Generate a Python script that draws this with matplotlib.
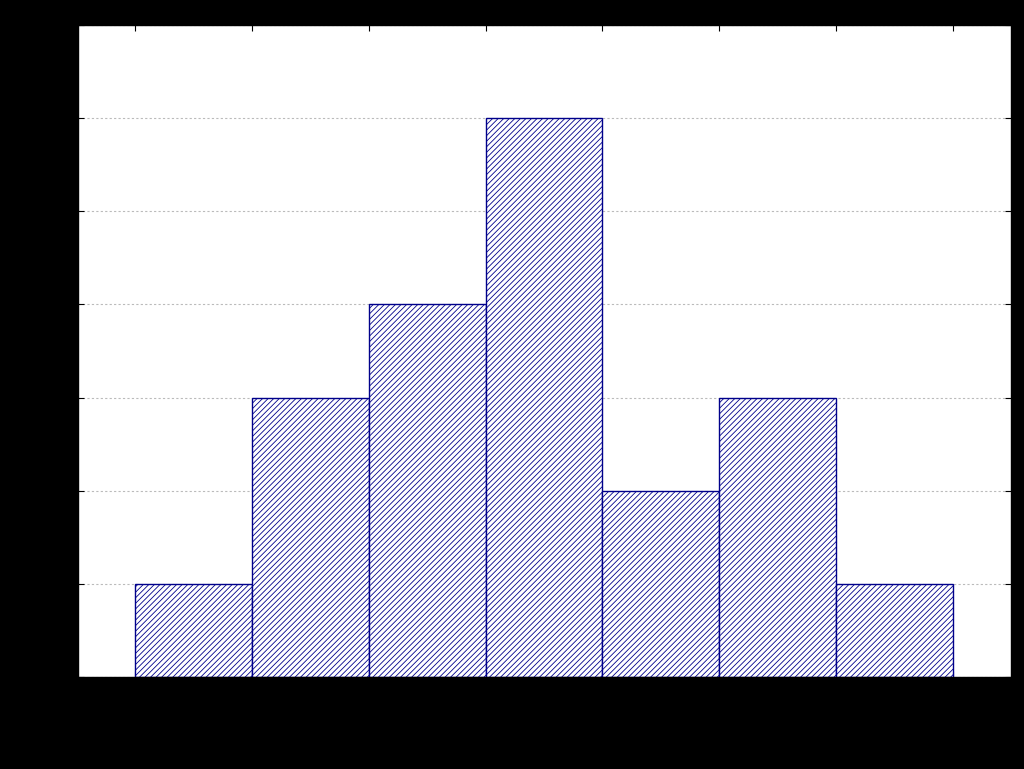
import matplotlib
matplotlib.use("Agg")
import matplotlib.pyplot as plt

# Data
bin_edges = [0, 1, 2, 3, 4, 5, 6, 7]
counts = [1, 3, 4, 6, 2, 3, 1]
y_ticks = [0, 1, 2, 3, 4, 5, 6, 7]

plt.rcParams['hatch.linewidth'] = 0.6
plt.rcParams['hatch.color'] = '#00008B'

fig = plt.figure(figsize=(10.24, 7.69), dpi=100, facecolor='black')
ax = fig.add_axes([78/1024, 92/769, (1011-78)/1024, (677-25)/769])
ax.set_facecolor('white')

lefts = bin_edges[:-1]
widths = [bin_edges[i+1] - bin_edges[i] for i in range(len(counts))]
ax.bar(lefts, counts, width=widths, align='edge', facecolor='white',
       edgecolor='#00008B', linewidth=1.0, hatch='//////', zorder=2)

ax.set_xlim(bin_edges[0] - 0.49, bin_edges[-1] + 0.5)
ax.set_ylim(0, 7)
ax.set_xticks(bin_edges)
ax.set_yticks(y_ticks)
ax.yaxis.grid(True, linestyle=(0, (2, 2)), color='#bbbbbb', linewidth=0.8, zorder=0)
ax.set_axisbelow(True)
ax.tick_params(direction='in', top=True, right=True, length=4, colors='black',
               labelcolor='black', labelsize=12)
for s in ax.spines.values():
    s.set_color('black')
    s.set_linewidth(1.0)

fig.savefig('out.png', dpi=100, facecolor='black')
